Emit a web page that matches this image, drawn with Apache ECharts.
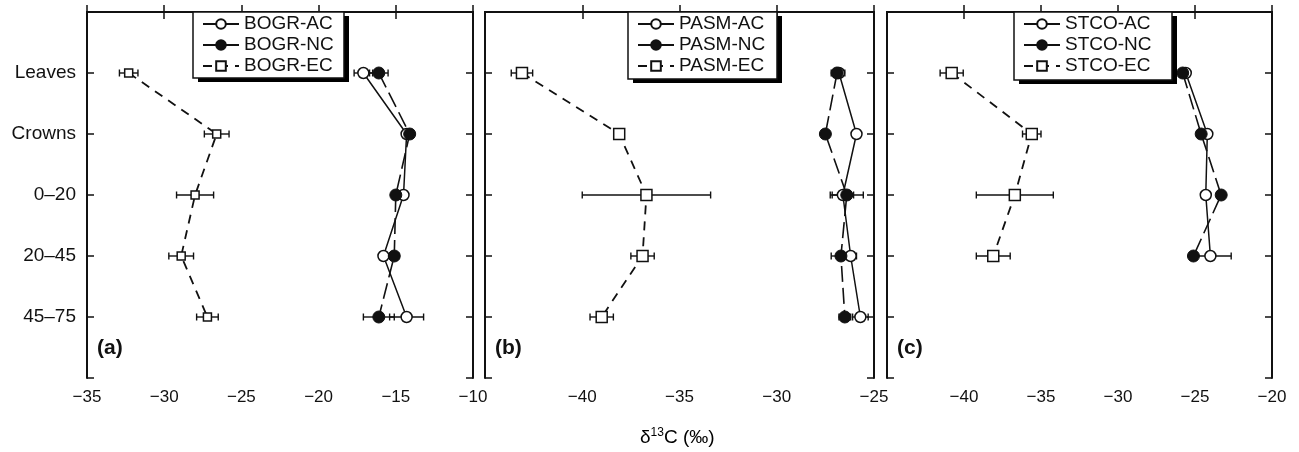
<!DOCTYPE html>
<html><head><meta charset="utf-8">
<script src="https://cdn.jsdelivr.net/npm/echarts@6/dist/echarts.min.js"></script>
<style>html,body{margin:0;padding:0;background:#fff}#c{width:1299px;height:452px}</style>
</head><body><div id="c"></div><script>
// ---- data ----
const depths = ['Leaves', 'Crowns', '0–20', '20–45', '45–75'];
const panelLabels = ['(a)', '(b)', '(c)'];

// Panel (a) BOGR
const bogrAC = [-17.1, -14.3, -14.5, -15.8, -14.3];
const bogrACerr = [0.6, 0.2, 0.2, 0.2, 1.1];
const bogrNC = [-16.1, -14.1, -15.0, -15.1, -16.1];
const bogrNCerr = [0.6, 0.2, 0.2, 0.3, 1.0];
const bogrEC = [-32.3, -26.6, -28.0, -28.9, -27.2];
const bogrECerr = [0.6, 0.8, 1.2, 0.8, 0.7];

// Panel (b) PASM
const pasmAC = [-26.8, -25.9, -26.6, -26.2, -25.7];
const pasmACerr = [0.3, 0.2, 0.55, 0.3, 0.4];
const pasmNC = [-26.9, -27.5, -26.4, -26.7, -26.5];
const pasmNCerr = [0.3, 0.2, 0.85, 0.5, 0.3];
const pasmEC = [-43.1, -38.1, -36.7, -36.9, -39.0];
const pasmECerr = [0.55, 0.2, 3.3, 0.6, 0.6];

// Panel (c) STCO
const stcoAC = [-25.6, -24.2, -24.3, -24.0, null];
const stcoACerr = [0.2, 0.2, 0.3, 1.35, null];
const stcoNC = [-25.8, -24.6, -23.3, -25.1, null];
const stcoNCerr = [0.2, 0.2, 0.2, 0.2, null];
const stcoEC = [-40.8, -35.6, -36.7, -38.1, null];
const stcoECerr = [0.75, 0.6, 2.5, 1.1, null];

const panels = [
  { names: ['BOGR-AC', 'BOGR-NC', 'BOGR-EC'], ac: bogrAC, acE: bogrACerr, nc: bogrNC, ncE: bogrNCerr, ec: bogrEC, ecE: bogrECerr, xmin: -35, xmax: -10 },
  { names: ['PASM-AC', 'PASM-NC', 'PASM-EC'], ac: pasmAC, acE: pasmACerr, nc: pasmNC, ncE: pasmNCerr, ec: pasmEC, ecE: pasmECerr, xmin: -45, xmax: -25 },
  { names: ['STCO-AC', 'STCO-NC', 'STCO-EC'], ac: stcoAC, acE: stcoACerr, nc: stcoNC, ncE: stcoNCerr, ec: stcoEC, ecE: stcoECerr, xmin: -45, xmax: -20 }
];

// ---- layout ----
const FONT = '"Liberation Sans", Arial, Helvetica, sans-serif';
const grids = [
  { left: 87, top: 12, width: 386, height: 366 },
  { left: 485, top: 12, width: 389, height: 366 },
  { left: 887, top: 12, width: 385, height: 366 }
];
const legendBoxes = [
  { x: 193, w: 151, h: 66 },
  { x: 628, w: 149, h: 67 },
  { x: 1014, w: 158, h: 68 }
];
const squareSize = [8, 11, 11];
const INK = '#111';

const chart = echarts.init(document.getElementById('c'), null, { renderer: 'canvas' });

const xAxes = [], yAxes = [], series = [], legends = [], graphics = [];
const fmtX = v => (v < 0 ? '−' + Math.abs(v) : String(v));

function pts(arr) {
  const out = [];
  arr.forEach((v, i) => { if (v !== null) out.push([v, i + 1]); });
  return out;
}
function errPts(arr, err) {
  const out = [];
  arr.forEach((v, i) => { if (v !== null) out.push([v, i + 1, err[i]]); });
  return out;
}
function errorSeries(pi, data) {
  return {
    type: 'custom', xAxisIndex: pi * 2, yAxisIndex: pi * 2, z: 2, silent: true,
    data: data,
    renderItem: function (params, api) {
      const x = api.value(0), y = api.value(1), e = api.value(2);
      const a = api.coord([x - e, y]), b = api.coord([x + e, y]);
      const cap = 3.5;
      const st = { stroke: INK, lineWidth: 1.4 };
      return {
        type: 'group', children: [
          { type: 'line', shape: { x1: a[0], y1: a[1], x2: b[0], y2: b[1] }, style: st },
          { type: 'line', shape: { x1: a[0], y1: a[1] - cap, x2: a[0], y2: a[1] + cap }, style: st },
          { type: 'line', shape: { x1: b[0], y1: b[1] - cap, x2: b[0], y2: b[1] + cap }, style: st }
        ]
      };
    }
  };
}

panels.forEach((p, pi) => {
  const axLine = { show: true, lineStyle: { color: INK, width: 2 } };
  xAxes.push({
    type: 'value', gridIndex: pi, position: 'bottom', min: p.xmin, max: p.xmax, interval: 5,
    axisLine: axLine, splitLine: { show: false },
    axisTick: { inside: true, length: 7, lineStyle: { color: INK, width: 1.5 } },
    axisLabel: { formatter: fmtX, color: INK, fontSize: 17, fontFamily: FONT, margin: 11, showMinLabel: pi === 0 }
  });
  xAxes.push({
    type: 'value', gridIndex: pi, position: 'top', min: p.xmin, max: p.xmax, interval: 5,
    axisLine: axLine, splitLine: { show: false },
    axisTick: { inside: true, length: 7, lineStyle: { color: INK, width: 1.5 } },
    axisLabel: { show: false }
  });
  yAxes.push({
    type: 'value', gridIndex: pi, position: 'left', min: 0, max: 6, interval: 1, inverse: true,
    axisLine: axLine, splitLine: { show: false },
    axisTick: { inside: true, length: 7, lineStyle: { color: INK, width: 1.5 } },
    axisLabel: { show: pi === 0, formatter: v => depths[v - 1] || '', color: INK, fontSize: 19, fontFamily: FONT, margin: 11 }
  });
  yAxes.push({
    type: 'value', gridIndex: pi, position: 'right', min: 0, max: 6, interval: 1, inverse: true,
    axisLine: axLine, splitLine: { show: false },
    axisTick: { inside: true, length: 7, lineStyle: { color: INK, width: 1.5 } },
    axisLabel: { show: false }
  });

  // error bars
  series.push(errorSeries(pi, errPts(p.ec, p.ecE)));
  series.push(errorSeries(pi, errPts(p.ac, p.acE)));
  series.push(errorSeries(pi, errPts(p.nc, p.ncE)));

  // lines
  series.push({
    name: p.names[2], type: 'line', xAxisIndex: pi * 2, yAxisIndex: pi * 2, z: 3,
    data: pts(p.ec), symbol: 'rect', symbolSize: squareSize[pi],
    lineStyle: { color: INK, width: 1.8, type: [9, 7] },
    itemStyle: { color: '#fff', borderColor: INK, borderWidth: 1.5 }, animation: false
  });
  series.push({
    name: p.names[0], type: 'line', xAxisIndex: pi * 2, yAxisIndex: pi * 2, z: 4,
    data: pts(p.ac), symbol: 'circle', symbolSize: 11,
    lineStyle: { color: INK, width: 1.5, type: 'solid' },
    itemStyle: { color: '#fff', borderColor: INK, borderWidth: 1.5 }, animation: false
  });
  series.push({
    name: p.names[1], type: 'line', xAxisIndex: pi * 2, yAxisIndex: pi * 2, z: 5,
    data: pts(p.nc), symbol: 'circle', symbolSize: 12,
    lineStyle: { color: INK, width: 1.6, type: [16, 6] },
    itemStyle: { color: INK, borderColor: INK, borderWidth: 1 }, animation: false
  });

  const lb = legendBoxes[pi];
  legends.push({
    orient: 'vertical', left: lb.x, top: 12, z: 20,
    data: [
      { name: p.names[0] },
      { name: p.names[1], lineStyle: { type: 'solid' } },
      { name: p.names[2] }
    ],
    itemWidth: 36, itemHeight: 12, itemGap: 1, padding: [2, 8, 4, 9],
    textStyle: { color: INK, fontSize: 19, fontFamily: FONT, lineHeight: 20 },
    selectedMode: false
  });

  // legend frame with drop shadow
  graphics.push({
    type: 'rect', z: 15, silent: true,
    shape: { x: lb.x + 5, y: 16, width: lb.w, height: lb.h },
    style: { fill: '#000' }
  });
  graphics.push({
    type: 'rect', z: 16, silent: true,
    shape: { x: lb.x, y: 12, width: lb.w, height: lb.h },
    style: { fill: '#fff', stroke: INK, lineWidth: 1.5 }
  });

  graphics.push({
    type: 'text', left: grids[pi].left + 10, top: 338, z: 16,
    style: { text: panelLabels[pi], font: 'bold 21px ' + FONT, fill: INK }
  });
});

graphics.push({
  type: 'text', left: 640, top: 427,
  style: {
    text: '{a|δ}{s|13}{a|C (‰)}',
    rich: {
      a: { fontSize: 19, fontFamily: FONT, color: INK },
      s: { fontSize: 12, fontFamily: FONT, color: INK, padding: [0, 0, 9, 0] }
    }
  }
});

chart.setOption({
  backgroundColor: '#fff',
  animation: false,
  grid: grids,
  xAxis: xAxes,
  yAxis: yAxes,
  legend: legends,
  series: series,
  graphic: graphics
});
</script></body></html>
